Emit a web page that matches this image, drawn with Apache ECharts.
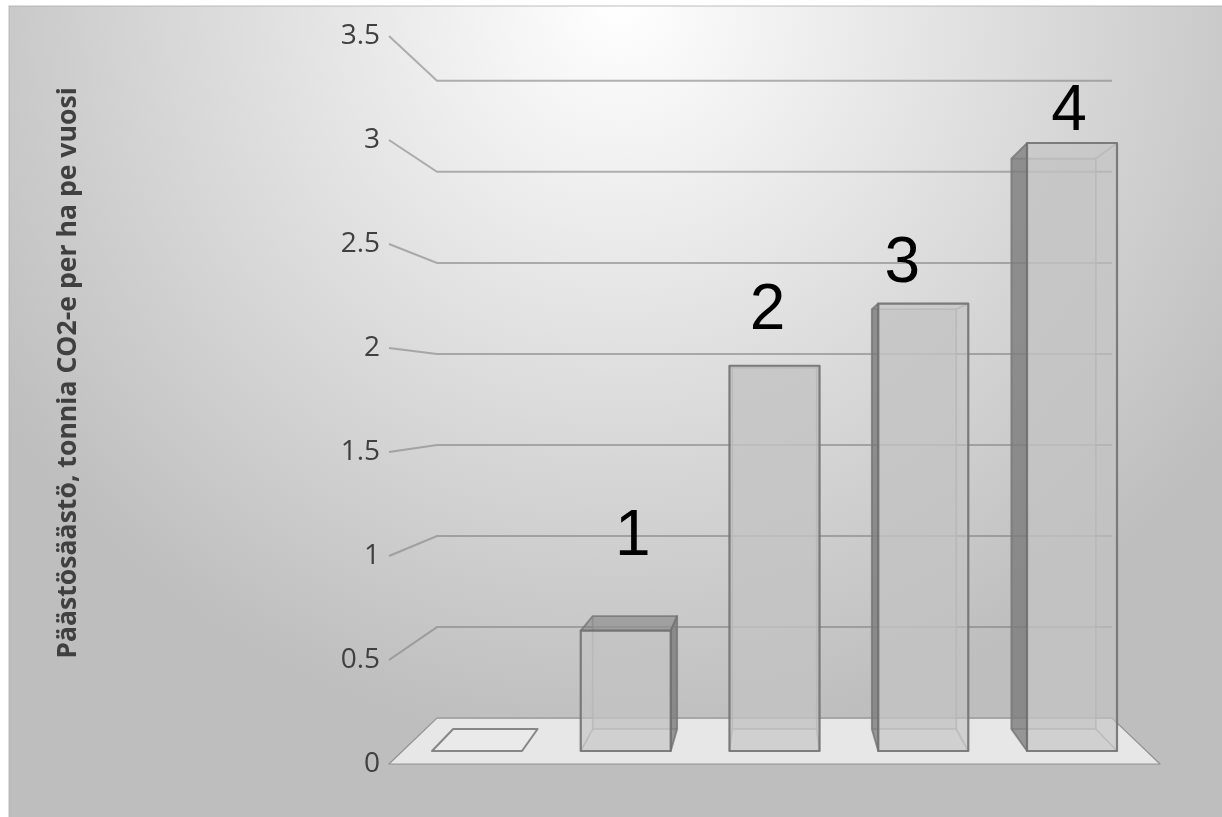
<!DOCTYPE html>
<html>
<head>
<meta charset="utf-8">
<style>html,body{margin:0;padding:0;background:#fff}#c{width:1222px;height:817px}</style>
<script src="https://cdn.jsdelivr.net/npm/echarts@6/dist/echarts.min.js"></script>
</head>
<body>
<div id="c"></div>
<script>
// ---- data ----
const categories = ['A', 'B', 'C', 'D', 'E'];
const values = [0, 0.6, 1.92, 2.23, 3.03];
const barLabels = ['', '1', '2', '3', '4'];
const yTicks = [0, 0.5, 1, 1.5, 2, 2.5, 3, 3.5];
const yTitle = 'Päästösäästö, tonnia CO2-e per ha pe vuosi';

// ---- perspective / layout constants ----
const VANISH_VALUE = 1.77;   // horizon level of the 3D view
const S_BACK_WALL = 0.8755;  // scale of the back wall relative to the front plane
const S_BAR_FRONT = 0.9647;  // scale of a bar's front face
const S_BAR_BACK = 0.905;    // scale of a bar's back face
const BAR_WIDTH = 0.605;     // share of the category band
const LABEL_NUDGE = [[0, 0], [7, -61], [-7, -22], [-21, -7], [-3, 1]];

function vanish(api, cs) {
  return [cs.x + cs.width / 2, api.coord([0, VANISH_VALUE])[1]];
}
function proj(vp, p, s) {
  return [vp[0] + (p[0] - vp[0]) * s, vp[1] + (p[1] - vp[1]) * s];
}
function poly(points, fill, stroke, lw, z2) {
  return {
    type: 'polygon', z2: z2 || 0, shape: { points: points },
    style: { fill: fill || 'none', stroke: stroke || 'none', lineWidth: lw || 0, lineJoin: 'round' }
  };
}

function renderFloor(params, api) {
  const cs = params.coordSys, vp = vanish(api, cs);
  const y0 = api.coord([0, 0])[1], l = cs.x, r = cs.x + cs.width;
  return poly([[l, y0], [r, y0], proj(vp, [r, y0], S_BACK_WALL), proj(vp, [l, y0], S_BACK_WALL)],
    '#e7e7e7', 'rgba(125,125,125,0.75)', 1.2);
}

function renderWall(params, api) {
  const cs = params.coordSys, vp = vanish(api, cs);
  const v = api.value(0);
  if (v === 0) return { type: 'group', children: [] };
  const y = api.coord([0, v])[1], l = cs.x, r = cs.x + cs.width;
  const a = proj(vp, [l, y], S_BACK_WALL), b = proj(vp, [r, y], S_BACK_WALL);
  return {
    type: 'polyline',
    shape: { points: [[l, y], a, b] },
    style: { fill: 'none', stroke: 'rgba(130,130,130,0.6)', lineWidth: 2 }
  };
}

function renderBar(params, api) {
  const cs = params.coordSys, vp = vanish(api, cs);
  const idx = api.value(0), v = api.value(1);
  const c = api.coord([idx, v]), base = api.coord([idx, 0]);
  const w = api.size([1, 0])[0] * BAR_WIDTH;
  const L = c[0] - w / 2, R = c[0] + w / 2;
  const ftl = proj(vp, [L, c[1]], S_BAR_FRONT), ftr = proj(vp, [R, c[1]], S_BAR_FRONT);
  const fbl = proj(vp, [L, base[1]], S_BAR_FRONT), fbr = proj(vp, [R, base[1]], S_BAR_FRONT);
  const btl = proj(vp, [L, c[1]], S_BAR_BACK), btr = proj(vp, [R, c[1]], S_BAR_BACK);
  const bbl = proj(vp, [L, base[1]], S_BAR_BACK), bbr = proj(vp, [R, base[1]], S_BAR_BACK);
  const kids = [];
  if (v <= 0) {
    kids.push(poly([fbl, fbr, bbr, bbl], 'rgba(255,255,255,0.12)', '#868686', 2));
    return { type: 'group', children: kids };
  }
  const inner = 'rgba(195,195,195,0.2)', line = 'rgba(165,165,165,0.5)';
  const outEdge = 'rgba(115,115,115,0.7)';
  const dark = 'rgba(92,92,92,0.56)';
  const leftDark = fbl[0] > vp[0], rightDark = fbr[0] < vp[0], topDark = ftl[1] > vp[1];
  // back, floor
  kids.push(poly([btl, btr, bbr, bbl], 'rgba(195,195,195,0.55)', line, 1.6, 1));
  kids.push(poly([fbl, fbr, bbr, bbl], inner, line, 1.6, 2));
  // sides
  kids.push(poly([ftl, btl, bbl, fbl], leftDark ? dark : inner,
    leftDark ? outEdge : line, leftDark ? 1.8 : 1.6, leftDark ? 4 : 2));
  kids.push(poly([ftr, btr, bbr, fbr], rightDark ? dark : inner,
    rightDark ? outEdge : line, rightDark ? 1.8 : 1.6, rightDark ? 4 : 2));
  // top
  kids.push(poly([ftl, ftr, btr, btl], topDark ? 'rgba(95,95,95,0.36)' : inner,
    topDark ? outEdge : line, topDark ? 1.8 : 1.6, topDark ? 4 : 2));
  // front
  kids.push(poly([ftl, ftr, fbr, fbl], 'rgba(195,195,195,0.55)', 'rgba(110,110,110,0.85)', 2.2, 5));
  return { type: 'group', children: kids };
}

function renderLabel(params, api) {
  const cs = params.coordSys, vp = vanish(api, cs);
  const idx = api.value(0), v = api.value(1);
  const c = api.coord([idx, v]);
  const p = proj(vp, c, S_BAR_FRONT), n = LABEL_NUDGE[idx];
  return {
    type: 'text', x: p[0] + n[0], y: p[1] + n[1],
    style: {
      text: barLabels[idx], fill: '#000',
      font: '64px "Liberation Sans", Arial, sans-serif',
      textAlign: 'center', textVerticalAlign: 'bottom'
    }
  };
}

const barData = values.map((v, i) => [i, v]);
const chart = echarts.init(document.getElementById('c'), null, { renderer: 'canvas' });
chart.setOption({
  animation: false,
  backgroundColor: '#fff',
  graphic: [{
    type: 'rect', z: -10, silent: true,
    shape: { x: 9, y: 6, width: 1225, height: 825 },
    style: {
      stroke: 'rgba(175,175,175,0.55)', lineWidth: 1.5,
      fill: {
        type: 'radial', x: 621, y: 6, r: 740, global: true,
        colorStops: [
          { offset: 0, color: '#ffffff' },
          { offset: 1, color: '#bebebe' }
        ]
      }
    }
  }],
  grid: { left: 389, right: 62, top: 36, bottom: 53, containLabel: false },
  xAxis: { type: 'category', data: categories, show: false },
  yAxis: {
    type: 'value', min: 0, max: yTicks[yTicks.length - 1], interval: 0.5,
    name: yTitle, nameLocation: 'middle', nameGap: 307, nameRotate: 90,
    nameTextStyle: {
      fontFamily: '"Open Sans", sans-serif', fontWeight: 'bold', fontSize: 26.6,
      color: '#404040', padding: [0, 0, 0, 54]
    },
    axisLine: { show: false }, axisTick: { show: false }, splitLine: { show: false },
    axisLabel: {
      margin: 9, color: '#404040', fontSize: 28, fontFamily: '"Open Sans", sans-serif',
      padding: [0, 0, 7, 0],
      formatter: v => String(v)
    }
  },
  series: [
    { type: 'custom', name: 'floor', coordinateSystem: 'cartesian2d', clip: false, z: 1, silent: true,
      data: [[0, 0]], encode: { x: 0, y: 1 }, renderItem: renderFloor },
    { type: 'custom', name: 'walls', coordinateSystem: 'cartesian2d', clip: false, z: 2, silent: true,
      data: yTicks.map(t => [t]), encode: { y: 0 }, renderItem: renderWall },
    { type: 'custom', name: 'bars', coordinateSystem: 'cartesian2d', clip: false, z: 3, silent: true,
      data: barData, encode: { x: 0, y: 1 }, renderItem: renderBar },
    { type: 'custom', name: 'labels', coordinateSystem: 'cartesian2d', clip: false, z: 4, silent: true,
      data: barData, encode: { x: 0, y: 1 }, renderItem: renderLabel }
  ]
});
</script>
</body>
</html>
